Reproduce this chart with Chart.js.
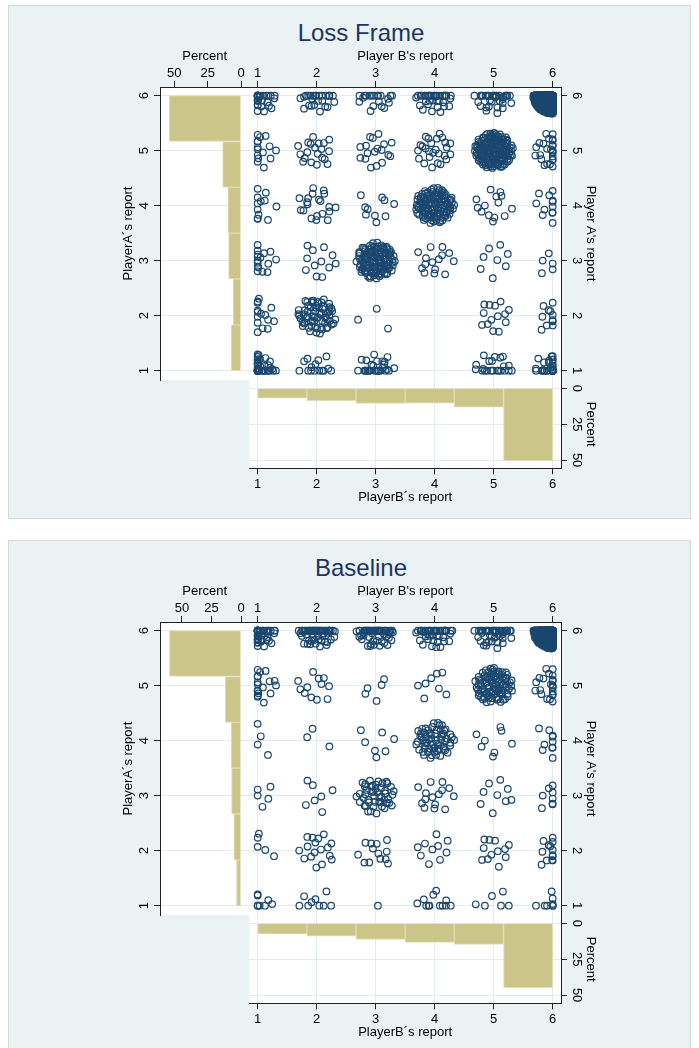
<!DOCTYPE html>
<html>
<head>
<meta charset="utf-8">
<script src="https://cdn.jsdelivr.net/npm/chart.js@4.4.1/dist/chart.umd.min.js"></script>
<style>
  body { margin: 0; background: #fff; width: 699px; height: 1048px; position: relative; overflow: hidden;
         font-family: "Liberation Sans", Arial, sans-serif; }
  .panel { position: absolute; left: 8px; width: 683px; height: 514px; background: #eaf2f3;
           border: 1px solid #d3dadc; box-sizing: border-box; }
  .title { position: absolute; left: 161px; width: 400px; text-align: center; font-size: 24px;
           line-height: 28px; color: #1c3461; }
  canvas { position: absolute; left: 0; }
</style>
</head>
<body>
<div class="panel" style="top:5px"></div>
<div class="panel" style="top:540px"></div>
<div class="title" style="top:19px">Loss Frame</div>
<div class="title" style="top:554px">Baseline</div>
<script>
// reports go from 1 to 6 for both players
const reports = [1, 2, 3, 4, 5, 6];
const pctTicks = [0, 25, 50];

// number of pairs per cell: row = Player A's report, column = Player B's report
const lossCounts = [
  [40, 15, 27, 0, 22, 31],
  [15, 65, 3, 0, 14, 11],
  [16, 12, 115, 15, 8, 5],
  [12, 20, 10, 112, 14, 12],
  [15, 20, 18, 26, 148, 25],
  [28, 26, 20, 36, 35, 840]
];
const baseCounts = [
  [8, 9, 1, 12, 6, 8],
  [5, 17, 13, 10, 12, 13],
  [5, 7, 48, 15, 9, 8],
  [4, 3, 7, 63, 8, 10],
  [18, 12, 5, 8, 88, 22],
  [44, 55, 54, 44, 45, 454]
];

const NAVY = '#1a476f';
const BAR = 'rgb(204,197,138)';
const BAR_EDGE = 'rgb(226,221,178)';
const GRID = '#e2ebee';
const INK = '#222';

Chart.defaults.font.family = '"Liberation Sans", Arial, sans-serif';
Chart.defaults.font.size = 13;
Chart.defaults.color = '#000';

const X_MIN = 0.858, X_MAX = 6.141;   // B's report axis
const Y_MIN = 0.831, Y_MAX = 6.158;   // A's report axis
const BOTTOM_PCT = [-5.8, 55.7];

// histogram bins: six equal bins over [1, 6]
const binWidth = (6 - 1) / reports.length;
const binCenters = reports.map((_, i) => 1 + (i + 0.5) * binWidth);

function shares(counts) {
  const n = counts.flat().reduce((a, b) => a + b, 0);
  const rows = counts.map(r => r.reduce((a, b) => a + b, 0) / n * 100);
  const cols = reports.map((_, c) => counts.reduce((a, r) => a + r[c], 0) / n * 100);
  return { rows, cols };
}

// low-discrepancy sequence for the jitter, same layout on every load
function halton(i, b) {
  let f = 1, r = 0;
  while (i > 0) { f /= b; r += f * (i % b); i = Math.floor(i / b); }
  return r;
}

// square -> disc (concentric mapping) so the spread is even
function toDisc(u, v) {
  const a = 2 * u - 1, b = 2 * v - 1;
  if (a === 0 && b === 0) return [0, 0];
  let r, phi;
  if (Math.abs(a) > Math.abs(b)) { r = a; phi = (Math.PI / 4) * (b / a); }
  else { r = b; phi = Math.PI / 2 - (Math.PI / 4) * (a / b); }
  return [r * Math.cos(phi), r * Math.sin(phi)];
}

const JITTER = 0.33;
function jitterPoints(counts) {
  const pts = [];
  counts.forEach((row, ri) => row.forEach((n, ci) => {
    for (let k = 0; k < n; k++) {
      const idx = k + 7 + (ri * 6 + ci) * 97;
      const [dx, dy] = toDisc(halton(idx, 2), halton(idx, 3));
      // jittered values are kept inside the 1..6 range
      const x = Math.min(6, Math.max(1, reports[ci] + JITTER * dx));
      const y = Math.min(6, Math.max(1, reports[ri] + JITTER * dy));
      pts.push({ x, y });
    }
  }));
  return pts;
}

function axis(pos, min, max, ticks, title, size, opts = {}) {
  return {
    type: 'linear', position: pos, min, max,
    reverse: !!opts.reverse, offset: false,
    afterBuildTicks: s => { s.ticks = ticks.map(v => ({ value: v })); },
    afterFit: s => { if (s.isHorizontal()) s.height = size; else s.width = size; },
    grid: { color: GRID, tickColor: INK, tickLength: 6, lineWidth: 1, offset: false,
            drawOnChartArea: opts.grid !== false },
    border: { color: INK, width: 1 },
    ticks: { display: opts.labels !== false, color: '#000', padding: opts.pad || 0,
             autoSkip: false, maxRotation: 0, minRotation: 0 },
    title: { display: true, text: title, color: '#000', padding: 0 }
  };
}

// white plot region
const plotBg = {
  id: 'plotBg',
  beforeDraw(chart) {
    const { ctx, chartArea: a } = chart;
    ctx.save();
    ctx.fillStyle = '#fff';
    ctx.fillRect(a.left, a.top, a.right - a.left, a.bottom - a.top);
    ctx.restore();
  }
};

// vertical axes carry their tick labels turned on their side
function sideLabels(axisId, side) {
  return {
    id: 'sideLabels',
    afterDraw(chart) {
      const s = chart.scales[axisId], ctx = chart.ctx, a = chart.chartArea;
      const x = side === 'left' ? a.left - 16 : a.right + 16;
      ctx.save();
      ctx.font = '13px "Liberation Sans", Arial, sans-serif';
      ctx.fillStyle = '#000';
      ctx.textAlign = 'center';
      ctx.textBaseline = 'middle';
      s.ticks.forEach(t => {
        ctx.save();
        ctx.translate(x, s.getPixelForValue(t.value));
        ctx.rotate(side === 'left' ? -Math.PI / 2 : Math.PI / 2);
        ctx.fillText(String(t.value), 0, 0);
        ctx.restore();
      });
      ctx.restore();
    }
  };
}

function makeCanvas(top) {
  const c = document.createElement('canvas');
  c.width = 699; c.height = 520;
  c.style.top = top + 'px';
  document.body.appendChild(c);
  return c;
}

const base = {
  responsive: false, animation: false, events: [],
  plugins: { legend: { display: false }, tooltip: { enabled: false } }
};

function drawPanel(top, counts, leftPct) {
  const { rows, cols } = shares(counts);

  // Player A's report distribution, bars growing to the left
  new Chart(makeCanvas(top), {
    type: 'bar',
    data: { datasets: [{
      data: rows.map((p, i) => ({ x: p, y: binCenters[i] })),
      backgroundColor: BAR, borderColor: BAR_EDGE, borderWidth: 1,
      barPercentage: 1, categoryPercentage: 1
    }] },
    options: Object.assign({}, base, {
      indexAxis: 'y',
      layout: { autoPadding: false, padding: { left: 121, top: 49, right: 449.7, bottom: 140 } },
      scales: {
        x: axis('top', leftPct[0], leftPct[1], pctTicks, 'Percent', 38, { reverse: true, grid: false }),
        y: axis('left', Y_MIN, Y_MAX, reports, 'PlayerA\u00b4s report', 39, { labels: false })
      }
    }),
    plugins: [plotBg, sideLabels('y', 'left')]
  });

  // jittered reports of both players
  new Chart(makeCanvas(top), {
    type: 'scatter',
    data: { datasets: [{
      data: jitterPoints(counts),
      pointRadius: 3.3, pointHoverRadius: 3.3, pointBorderWidth: 1.2,
      pointBorderColor: NAVY, pointBackgroundColor: 'rgba(0,0,0,0)'
    }] },
    options: Object.assign({}, base, {
      layout: { autoPadding: false, padding: { left: 249.3, top: 49, right: 101, bottom: 140 } },
      scales: {
        x: axis('top', X_MIN, X_MAX, reports, "Player B's report", 38),
        y: axis('right', Y_MIN, Y_MAX, reports, "Player A's report", 37, { labels: false })
      }
    }),
    plugins: [plotBg, sideLabels('y', 'right')]
  });

  // Player B's report distribution, bars hanging down
  new Chart(makeCanvas(top), {
    type: 'bar',
    data: { datasets: [{
      data: cols.map((p, i) => ({ x: binCenters[i], y: p })),
      backgroundColor: BAR, borderColor: BAR_EDGE, borderWidth: 1,
      barPercentage: 1, categoryPercentage: 1
    }] },
    options: Object.assign({}, base, {
      layout: { autoPadding: false, padding: { left: 249.3, top: 380, right: 101, bottom: 15.2 } },
      scales: {
        x: axis('bottom', X_MIN, X_MAX, reports, 'PlayerB\u00b4s report', 36.5, { pad: 2 }),
        y: axis('right', BOTTOM_PCT[0], BOTTOM_PCT[1], pctTicks, 'Percent', 37, { reverse: true, labels: false })
      }
    }),
    plugins: [plotBg, sideLabels('y', 'right')]
  });
}

drawPanel(0, lossCounts, [-6.2, 60.75]);
drawPanel(535, baseCounts, [-7, 68.5]);
</script>
</body>
</html>
